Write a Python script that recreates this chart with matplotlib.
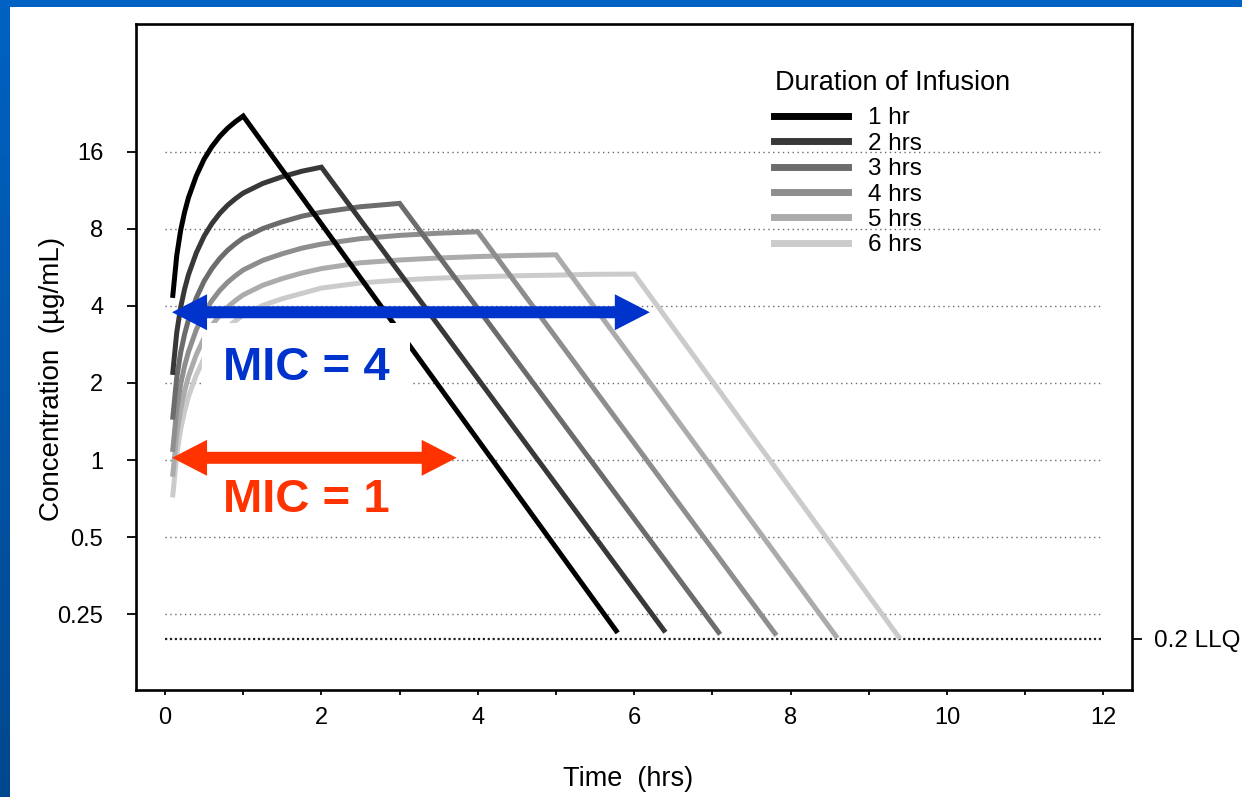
import numpy as np
import matplotlib
matplotlib.use('Agg')
import matplotlib.pyplot as plt
from matplotlib.patches import Rectangle, Polygon
from matplotlib.lines import Line2D
from matplotlib.colors import LinearSegmentedColormap
from matplotlib.transforms import IdentityTransform
from matplotlib.ticker import NullLocator, MultipleLocator

plt.rcParams['font.family'] = ['Liberation Sans', 'DejaVu Sans']

# concentration-time curves (hrs, ug/mL)
labels = ['1 hr', '2 hrs', '3 hrs', '4 hrs', '5 hrs', '6 hrs']
t_1 = [0.1, 0.15, 0.2, 0.25, 0.3, 0.4, 0.5, 0.6, 0.7, 0.8, 0.9, 1.0, 5.77]
c_1 = [4.4, 6.3, 7.9, 9.3, 10.6, 12.9, 15.0, 16.8, 18.4, 19.8, 21.0, 22.1, 0.215]
t_2 = [0.1, 0.15, 0.2, 0.25, 0.3, 0.4, 0.5, 0.6, 0.7, 0.8, 0.9, 1.0, 1.25, 1.5, 1.75,
       2.0, 6.38]
c_2 = [2.2, 3.15, 3.95, 4.65, 5.3, 6.45, 7.5, 8.4, 9.2, 9.9, 10.5, 11.05, 12.05, 12.8,
       13.45, 13.95, 0.216]
t_3 = [0.1, 0.15, 0.2, 0.25, 0.3, 0.4, 0.5, 0.6, 0.7, 0.8, 0.9, 1.0, 1.25, 1.5, 1.75,
       2.0, 2.5, 3.0, 7.08]
c_3 = [1.47, 2.1, 2.63, 3.1, 3.53, 4.3, 5.0, 5.6, 6.13, 6.6, 7.0, 7.37, 8.03, 8.53,
       8.97, 9.3, 9.77, 10.07, 0.212]
t_4 = [0.1, 0.15, 0.2, 0.25, 0.3, 0.4, 0.5, 0.6, 0.7, 0.8, 0.9, 1.0, 1.25, 1.5, 1.75,
       2.0, 2.5, 3.0, 3.5, 4.0, 7.8]
c_4 = [1.1, 1.58, 1.98, 2.33, 2.65, 3.23, 3.75, 4.2, 4.6, 4.95, 5.25, 5.53, 6.03, 6.4,
       6.73, 6.98, 7.33, 7.55, 7.7, 7.8, 0.21]
t_5 = [0.1, 0.15, 0.2, 0.25, 0.3, 0.4, 0.5, 0.6, 0.7, 0.8, 0.9, 1.0, 1.25, 1.5, 1.75,
       2.0, 2.5, 3.0, 3.5, 4.0, 4.5, 5.0, 8.58]
c_5 = [0.88, 1.26, 1.58, 1.86, 2.12, 2.58, 3.0, 3.36, 3.68, 3.96, 4.2, 4.42, 4.82, 5.12,
       5.38, 5.6, 5.9, 6.05, 6.16, 6.24, 6.3, 6.34, 0.205]
t_6 = [0.1, 0.15, 0.2, 0.25, 0.3, 0.4, 0.5, 0.6, 0.7, 0.8, 0.9, 1.0, 1.25, 1.5, 1.75,
       2.0, 2.5, 3.0, 3.5, 4.0, 4.5, 5.0, 5.5, 6.0, 9.38]
c_6 = [0.73, 1.05, 1.32, 1.55, 1.77, 2.15, 2.5, 2.8, 3.07, 3.3, 3.5, 3.68, 4.02, 4.27,
       4.48, 4.7, 4.92, 5.05, 5.14, 5.2, 5.25, 5.28, 5.32, 5.33, 0.204]

yticks = [0.25, 0.5, 1, 2, 4, 8, 16]
ytick_labels = ['0.25', '0.5', '1', '2', '4', '8', '16']
llq = 0.2

# MIC arrows: (level, start, end)
mic4 = (3.78, 0.09, 6.2)
mic1 = (1.02, 0.09, 3.73)

greys = ['#000000', '#383838', '#6c6c6c', '#8e8e8e', '#ababab', '#cbcbcb']
blue = '#0033CC'
red = '#FF3300'

fig = plt.figure(figsize=(12.42, 7.97), dpi=100)
fig.patch.set_facecolor('white')

# blue slide frame
bar = fig.add_axes([0, 0, 10 / 1242, 1])
grad = np.linspace(0, 1, 256).reshape(-1, 1)
cm = LinearSegmentedColormap.from_list('fr', ['#0062C2', '#00488E'])
bar.imshow(grad, aspect='auto', cmap=cm, extent=[0, 1, 0, 1])
bar.axis('off')
fig.patches.append(Rectangle((0, 1 - 7 / 797), 1, 7 / 797, transform=fig.transFigure,
                             facecolor='#0062C2', edgecolor='none', zorder=5))

ax = fig.add_axes([136 / 1242, 107 / 797, 996 / 1242, 666 / 797])
ax.set_yscale('log', base=2)
ax.set_xlim(-0.371, 12.366)
ax.set_ylim(0.1262, 50.6)

for v in yticks:
    ax.hlines(v, 0, 12, colors='#6a6a6a', linestyles=(0, (1, 2.5)), lw=1.0, zorder=1)
ax.hlines(llq, 0, 12, colors='#222222', linestyles=(0, (1, 1.2)), lw=1.6, zorder=1)

series = [(t_1, c_1), (t_2, c_2), (t_3, c_3), (t_4, c_4), (t_5, c_5), (t_6, c_6)]
for i in range(5, -1, -1):
    t, c = series[i]
    ax.plot(t, c, color=greys[i], lw=3.6, solid_joinstyle='miter', zorder=2 + (6 - i) * 0.1)

ax.set_yticks(yticks)
ax.set_yticklabels(ytick_labels)
ax.yaxis.set_minor_locator(NullLocator())
ax.set_xticks([0, 2, 4, 6, 8, 10, 12])
ax.xaxis.set_minor_locator(MultipleLocator(1))
ax.tick_params(axis='y', which='major', direction='out', length=6.5, width=1.3,
               labelsize=17, pad=17)
ax.tick_params(axis='x', which='both', direction='out', length=3.6, width=1.3,
               labelsize=17, pad=9)
for s in ax.spines.values():
    s.set_linewidth(1.9)

ax.set_xlabel('Time  (hrs)', fontsize=19.5, labelpad=26)
ax.xaxis.label.set_x(0.494)
ax.set_ylabel('Concentration  (\u00b5g/mL)', fontsize=20)
ax.yaxis.set_label_coords(-0.0713, 0.467)

ax2 = ax.twinx()
ax2.set_yscale('log', base=2)
ax2.set_ylim(ax.get_ylim())
ax2.set_yticks([llq])
ax2.set_yticklabels(['0.2 LLQ'])
ax2.yaxis.set_minor_locator(NullLocator())
ax2.tick_params(axis='y', direction='out', length=7, width=1.3, labelsize=17.5, pad=9)
for s in ax2.spines.values():
    s.set_visible(False)

# legend
handles = [Line2D([], [], color=g, lw=5) for g in greys]
ax.legend(handles, labels, loc='upper left', bbox_to_anchor=(0.6406, 0.875),
          frameon=False, fontsize=17.5, handlelength=3.05, handletextpad=0.82,
          labelspacing=0.14, borderpad=0, borderaxespad=0)
ax.text(0.6416, 0.911, 'Duration of Infusion', transform=ax.transAxes,
        ha='left', va='center', fontsize=19.5)

# MIC annotations
ax.add_patch(Rectangle((0.47, 1.72), 2.66, 1.71, facecolor='white', edgecolor='none', zorder=4))


def double_arrow(level, x0, x1, color, head=35, half=18, shaft=6):
    # one polygon, built in pixels from the data end points
    xl, y = ax.transData.transform((x0, level))
    xr, _ = ax.transData.transform((x1, level))
    verts = [(xl, y), (xl + head, y + half), (xl + head, y + shaft),
             (xr - head, y + shaft), (xr - head, y + half), (xr, y),
             (xr - head, y - half), (xr - head, y - shaft), (xl + head, y - shaft),
             (xl + head, y - half)]
    ax.add_patch(Polygon(verts, closed=True, transform=IdentityTransform(),
                         facecolor=color, edgecolor='none', zorder=5))


double_arrow(mic4[0], mic4[1], mic4[2], blue)
double_arrow(mic1[0], mic1[1], mic1[2], red)

ax.text(0.74, 2.05, 'MIC = 4', ha='left', va='baseline', fontsize=34,
        weight='bold', color=blue, zorder=6)
ax.text(0.74, 0.626, 'MIC = 1', ha='left', va='baseline', fontsize=34,
        weight='bold', color=red, zorder=6)

fig.savefig('out.png', dpi=100, facecolor='white')
